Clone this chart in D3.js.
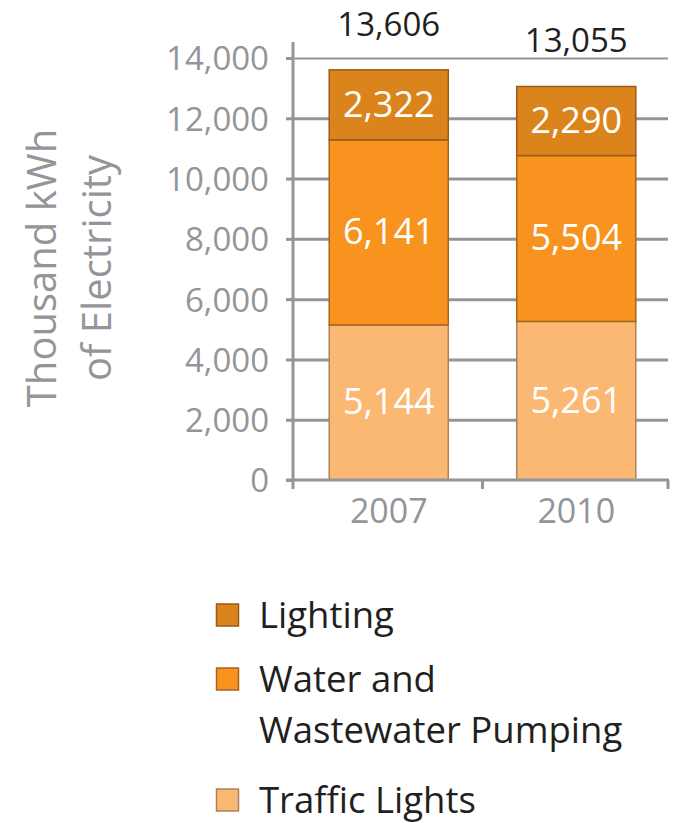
<!DOCTYPE html>
<html>
<head>
<meta charset="utf-8">
<script src="https://cdn.jsdelivr.net/npm/d3@7"></script>
<style>
  html, body { margin: 0; padding: 0; background: #fff; }
  svg { display: block; font-family: "Open Sans", "Noto Sans", sans-serif; }
</style>
</head>
<body>
<svg id="chart" width="677" height="823"></svg>
<script>
const years = ["2007", "2010"];
const seriesNames = ["Traffic Lights", "Water and Wastewater Pumping", "Lighting"];
const trafficLights = [5144, 5261];
const waterPumping = [6141, 5504];
const lighting = [2322, 2290];
const totals = [13606, 13055];
const yTicks = [0, 2000, 4000, 6000, 8000, 10000, 12000, 14000];
const colors = ["#FBB872", "#F7931E", "#DC841C"];
const strokes = ["#A98360", "#A8641F", "#9A5A18"];
const legendOrder = [
  { name: "Lighting", lines: ["Lighting"], idx: 2 },
  { name: "Water and Wastewater Pumping", lines: ["Water and", "Wastewater Pumping"], idx: 1 },
  { name: "Traffic Lights", lines: ["Traffic Lights"], idx: 0 }
];

const svg = d3.select("#chart");
const gray = "#939598";

const x = d3.scaleBand().domain(years).range([295, 670]).paddingInner(0.365).paddingOuter(0.1825);
const y = d3.scaleLinear().domain([0, 14000]).range([480, 58]);

const table = years.map((yr, i) => ({
  year: yr,
  "Traffic Lights": trafficLights[i],
  "Water and Wastewater Pumping": waterPumping[i],
  "Lighting": lighting[i]
}));
const stack = d3.stack().keys(seriesNames)(table);

// Gridlines (y axis with long ticks)
const gridAxis = d3.axisRight(y).tickValues(yTicks.slice(1)).tickSize(375).tickFormat("");
const gGrid = svg.append("g").attr("transform", "translate(293,0)").call(gridAxis);
gGrid.select(".domain").remove();
gGrid.selectAll("line").attr("stroke", gray).attr("stroke-width", 3);
gGrid.selectAll(".tick").filter(d => d === 14000).select("line").attr("stroke-width", 2.2);

// Y axis ticks + labels
const yAxis = d3.axisLeft(y).tickValues(yTicks).tickSize(7).tickPadding(17).tickFormat(d3.format(","));
const gY = svg.append("g").attr("transform", "translate(293,0)").call(yAxis);
gY.select(".domain").remove();
gY.selectAll("line").attr("stroke", gray).attr("stroke-width", 3);
gY.selectAll("text").attr("fill", gray).attr("font-size", 33)
  .attr("font-family", "'Open Sans', sans-serif").attr("dy", "0.36em");

// Y axis vertical line
svg.append("line").attr("x1", 293).attr("x2", 293).attr("y1", 42).attr("y2", 489)
  .attr("stroke", gray).attr("stroke-width", 3);

// Bars
const layers = svg.append("g").selectAll("g").data(stack).join("g")
  .attr("fill", (d, i) => colors[i]).attr("stroke", (d, i) => strokes[i]);
layers.selectAll("rect").data(d => d).join("rect")
  .attr("x", d => x(d.data.year))
  .attr("width", x.bandwidth())
  .attr("y", d => y(d[1]))
  .attr("height", d => y(d[0]) - y(d[1]))
  .attr("stroke-width", 1.5);

// X axis baseline and ticks
const xAxis = d3.axisBottom(x).tickSize(0).tickPadding(40).tickSizeOuter(0);
const gX = svg.append("g").attr("transform", "translate(0,480)").call(xAxis);
gX.select(".domain").remove();
gX.selectAll("line").remove();
gX.selectAll("text").attr("fill", gray).attr("font-size", 34)
  .attr("font-family", "'Open Sans', sans-serif").attr("dy", "0").attr("y", 43);
svg.append("line").attr("x1", 286).attr("x2", 669).attr("y1", 480).attr("y2", 480)
  .attr("stroke", gray).attr("stroke-width", 3);
const step = x.step();
const bounds = [x(years[1]) - step * x.paddingInner() / 2, x.range()[1] - 2];
svg.selectAll(".xtick").data(bounds).join("line").attr("class", "xtick")
  .attr("x1", d => d).attr("x2", d => d).attr("y1", 480).attr("y2", 489)
  .attr("stroke", gray).attr("stroke-width", 3);

// Segment labels
const labelG = svg.append("g");
stack.forEach((layer) => {
  layer.forEach(d => {
    labelG.append("text")
      .attr("x", x(d.data.year) + x.bandwidth() / 2)
      .attr("y", (y(d[0]) + y(d[1])) / 2 + 12)
      .attr("text-anchor", "middle")
      .attr("fill", "#fff")
      .attr("font-size", 36)
      .text(d3.format(",")(d[1] - d[0]));
  });
});

// Totals
svg.append("g").selectAll("text").data(years).join("text")
  .attr("x", d => x(d) + x.bandwidth() / 2)
  .attr("y", (d, i) => y(totals[i]) - 34)
  .attr("text-anchor", "middle")
  .attr("fill", "#231f20")
  .attr("font-size", 33)
  .text((d, i) => d3.format(",")(totals[i]));

// Y axis title
const title = svg.append("text")
  .attr("transform", "translate(56,268) rotate(-90)")
  .attr("text-anchor", "middle").attr("fill", gray).attr("font-size", 40);
title.append("tspan").attr("x", 0).attr("y", 0).text("Thousand kWh");
title.append("tspan").attr("x", 0).attr("y", 55).text("of Electricity");

// Legend
const legendY = [628, 692, 813];
const lg = svg.append("g");
legendOrder.forEach((item, k) => {
  const by = legendY[k];
  lg.append("rect").attr("x", 216.5).attr("y", by - 24).attr("width", 22).attr("height", 22)
    .attr("fill", colors[item.idx]).attr("stroke", strokes[item.idx]).attr("stroke-width", 1.5);
  const t = lg.append("text").attr("fill", "#231f20").attr("font-size", 36.5);
  item.lines.forEach((ln, j) => {
    t.append("tspan").attr("x", 259).attr("y", by + j * 51).text(ln);
  });
});
</script>
</body>
</html>
